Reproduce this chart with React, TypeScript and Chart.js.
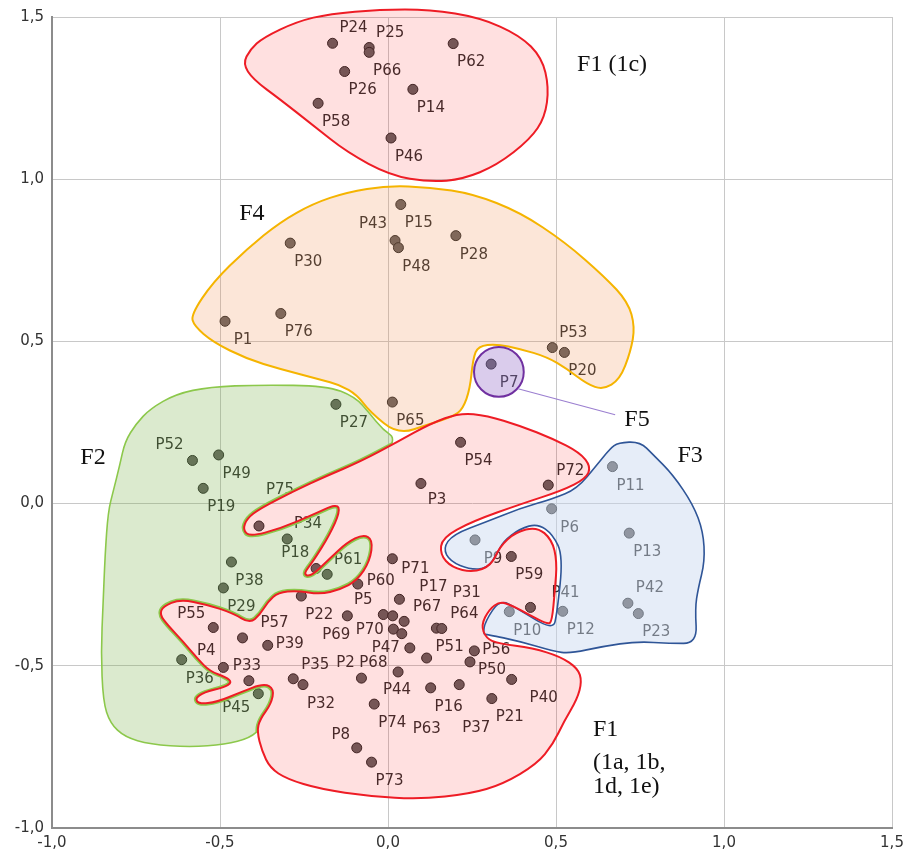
import React, { useEffect, useRef } from "react";
import { Chart, registerables } from "chart.js";
Chart.register(...registerables);

// ---------- data ----------
const pointNames = [
  "P24","P25","P66","P62","P26","P14","P58","P46",
  "P15","P30","P43","P48","P28","P76","P1","P65","P53","P20","P7",
  "P27","P52","P49","P19","P75","P18","P38","P29","P34","P61","P55","P36","P45",
  "P11","P6","P13","P9","P10","P12","P42","P23",
  "P54","P3","P72","P59","P41",
  "P71","P60","P17","P69","P5","P70","P67","P68","P63","P64","P31","P47","P51","P44","P2","P56","P50",
  "P22","P57","P39","P4","P33","P35","P32",
  "P16","P37","P40","P21","P74","P8","P73"
];
const pointX = [
  -0.165,-0.056,-0.056,0.194,-0.129,0.074,-0.208,0.009,
  0.038,-0.291,0.021,0.031,0.202,-0.319,-0.485,0.013,0.489,0.525,0.307,
  -0.155,-0.582,-0.504,-0.550,-0.384,-0.300,-0.466,-0.490,-0.214,-0.181,-0.520,-0.614,-0.386,
  0.668,0.487,0.718,0.259,0.361,0.520,0.714,0.745,
  0.216,0.098,0.477,0.367,0.424,
  0.013,-0.090,0.034,-0.121,-0.014,0.014,0.048,0.016,0.041,0.144,0.160,0.065,0.115,0.030,-0.079,0.257,0.244,
  -0.258,-0.433,-0.358,-0.490,-0.414,-0.282,-0.253,
  0.127,0.212,0.368,0.309,-0.041,-0.093,-0.049
];
const pointY = [
  1.419,1.406,1.391,1.418,1.332,1.277,1.234,1.127,
  0.922,0.803,0.811,0.789,0.826,0.586,0.562,0.313,0.481,0.466,0.430,
  0.306,0.133,0.150,0.047,-0.069,-0.109,-0.180,-0.260,-0.200,-0.218,-0.382,-0.481,-0.586,
  0.114,-0.016,-0.091,-0.112,-0.333,-0.332,-0.307,-0.339,
  0.189,0.062,0.057,-0.163,-0.320,
  -0.170,-0.248,-0.295,-0.346,-0.342,-0.346,-0.363,-0.387,-0.401,-0.384,-0.385,-0.445,-0.476,-0.519,-0.538,-0.454,-0.488,
  -0.285,-0.414,-0.437,-0.505,-0.546,-0.540,-0.558,
  -0.568,-0.558,-0.542,-0.601,-0.618,-0.753,-0.797
];
const axisMin = -1;
const axisMax = 1.5;
const axisStep = 0.5;

// region outlines (data units)
const regionF1c: [number, number][] = [
  [-0.432,1.356],[-0.410,1.400],[-0.372,1.436],[-0.271,1.486],[-0.173,1.510],[-0.024,1.523],[0.125,1.523],
  [0.274,1.498],[0.393,1.443],[0.458,1.375],[0.479,1.283],[0.467,1.191],[0.423,1.123],
  [0.324,1.043],[0.223,1.0],[0.125,0.991],[0.006,1.012],[-0.122,1.083],[-0.223,1.166],
  [-0.321,1.246],[-0.402,1.308]
];
const regionF4: [number, number][] = [
  [-0.586,0.582],[-0.521,0.683],[-0.420,0.785],[-0.321,0.868],[-0.223,0.925],[-0.122,0.960],
  [-0.003,0.980],[0.125,0.975],[0.253,0.955],[0.393,0.898],[0.527,0.806],[0.646,0.698],
  [0.714,0.622],[0.735,0.545],[0.722,0.468],[0.690,0.382],[0.640,0.351],[0.592,0.369],
  [0.533,0.415],[0.473,0.452],[0.393,0.477],[0.324,0.492],[0.268,0.486],[0.253,0.446],
  [0.244,0.354],[0.223,0.292],[0.193,0.268],[0.125,0.246],[0.030,0.212],[-0.054,0.283],
  [-0.092,0.335],[-0.143,0.366],[-0.202,0.382],[-0.321,0.415],[-0.420,0.446],[-0.521,0.498],
  [-0.577,0.548]
];
const regionF2: [number, number][] = [
  [-0.708,0.292],[-0.631,0.338],[-0.530,0.360],[-0.381,0.366],[-0.182,0.363],[-0.098,0.329],
  [-0.054,0.277],[-0.015,0.228],[0.027,0.197],[-0.048,0.098],[-0.009,-0.055],[-0.024,-0.209],
  [-0.113,-0.332],[-0.262,-0.455],[-0.307,-0.609],[-0.372,-0.686],[-0.411,-0.723],[-0.485,-0.742],
  [-0.589,-0.751],[-0.708,-0.742],[-0.783,-0.720],[-0.827,-0.677],[-0.848,-0.609],[-0.854,-0.455],
  [-0.848,-0.311],[-0.842,-0.157],[-0.833,-0.025],[-0.818,0.037],[-0.798,0.120],[-0.783,0.191],
  [-0.750,0.246]
];
const regionF1: [number, number][] = [
  [0.125,0.246],[0.214,0.280],[0.295,0.271],[0.393,0.240],[0.491,0.200],[0.571,0.157],
  [0.604,0.114],[0.589,0.077],[0.518,0.040],[0.399,0.000],[0.250,-0.055],[0.161,-0.105],
  [0.155,-0.157],[0.190,-0.197],[0.253,-0.212],[0.307,-0.191],[0.333,-0.132],[0.378,-0.089],
  [0.443,-0.071],[0.488,-0.111],[0.503,-0.178],[0.497,-0.265],[0.488,-0.363],[0.476,-0.372],
  [0.423,-0.345],[0.369,-0.314],[0.333,-0.302],[0.301,-0.326],[0.277,-0.375],[0.292,-0.415],
  [0.327,-0.431],[0.432,-0.446],[0.512,-0.471],[0.565,-0.508],[0.577,-0.548],[0.563,-0.603],
  [0.524,-0.671],[0.491,-0.742],[0.443,-0.803],[0.342,-0.865],[0.244,-0.895],[0.095,-0.911],
  [-0.054,-0.902],[-0.202,-0.880],[-0.301,-0.849],[-0.351,-0.815],[-0.375,-0.763],[-0.390,-0.702],
  [-0.381,-0.665],[-0.348,-0.618],[-0.339,-0.572],[-0.369,-0.554],[-0.440,-0.582],[-0.509,-0.612],
  [-0.563,-0.618],[-0.574,-0.600],[-0.548,-0.582],[-0.488,-0.566],[-0.464,-0.551],[-0.482,-0.535],
  [-0.530,-0.517],[-0.568,-0.477],[-0.610,-0.425],[-0.658,-0.372],[-0.679,-0.342],[-0.670,-0.317],
  [-0.619,-0.295],[-0.539,-0.311],[-0.461,-0.338],[-0.411,-0.369],[-0.381,-0.342],[-0.357,-0.302],
  [-0.327,-0.274],[-0.271,-0.268],[-0.202,-0.280],[-0.143,-0.265],[-0.092,-0.237],[-0.054,-0.178],
  [-0.045,-0.111],[-0.074,-0.095],[-0.122,-0.120],[-0.173,-0.169],[-0.229,-0.225],[-0.253,-0.218],
  [-0.223,-0.178],[-0.173,-0.095],[-0.143,-0.025],[-0.152,0.000],[-0.223,-0.034],[-0.321,-0.077],
  [-0.411,-0.102],[-0.432,-0.080],[-0.420,-0.046],[-0.381,-0.015],[-0.283,0.037],[-0.182,0.086],
  [-0.083,0.129],[0.030,0.191]
];
const regionF3: [number, number][] = [
  [0.685,0.188],[0.750,0.191],[0.789,0.151],[0.848,0.089],[0.908,-0.003],[0.938,-0.086],
  [0.943,-0.178],[0.923,-0.262],[0.914,-0.323],[0.920,-0.431],[0.839,-0.431],[0.741,-0.425],
  [0.640,-0.440],[0.542,-0.462],[0.491,-0.455],[0.393,-0.425],[0.295,-0.403],[0.283,-0.403],
  [0.289,-0.363],[0.333,-0.295],[0.384,-0.323],[0.491,-0.391],[0.503,-0.338],[0.521,-0.163],
  [0.491,-0.095],[0.446,-0.062],[0.393,-0.077],[0.342,-0.117],[0.324,-0.157],[0.295,-0.200],
  [0.244,-0.203],[0.185,-0.178],[0.164,-0.138],[0.193,-0.095],[0.295,-0.055],[0.393,-0.015],
  [0.491,0.015],[0.563,0.046],[0.622,0.120],[0.661,0.169]
];
const circleF5 = { cx: 0.330, cy: 0.406, rx: 0.074, ry: 0.077 };
const leaderF5: [number, number][] = [[0.387,0.354],[0.676,0.274]];
const regionTexts = [
  { text: "F1 (1c)", x: 0.667, y: 1.354, align: "center" },
  { text: "F4", x: -0.405, y: 0.895, align: "center" },
  { text: "F5", x: 0.741, y: 0.258, align: "center" },
  { text: "F2", x: -0.878, y: 0.142, align: "center" },
  { text: "F3", x: 0.899, y: 0.148, align: "center" },
  { text: "F1", x: 0.610, y: -0.698, align: "left" },
  { text: "(1a, 1b,", x: 0.610, y: -0.800, align: "left" },
  { text: "1d, 1e)", x: 0.610, y: -0.874, align: "left" },
];

// label placement (pixel offsets from point centre)
const defaultOffset: [number, number] = [18, 19];
const labelOffsets: Record<string, [number, number]> = {
  P24:[21,-15], P25:[21,-14], P43:[-22,-16], P53:[21,-14], P52:[-23,-15], P75:[21,-36],
  P18:[8,14], P34:[-8,-44], P61:[21,-14], P55:[-22,-13], P45:[-22,14], P42:[22,-15],
  P3:[16,17], P72:[22,-14], P41:[35,-14], P71:[23,10], P60:[23,-3], P17:[34,-12],
  P69:[-11,19], P5:[-20,-14], P70:[-23,14], P67:[23,-14], P68:[-20,34], P63:[25,95],
  P64:[28,-14], P31:[25,-35], P47:[-24,0], P51:[23,-11], P44:[-1,18], P2:[-16,-15],
  P56:[22,-1], P50:[22,8], P57:[32,-15], P39:[22,-1], P4:[-17,-16], P33:[-2,-15],
  P35:[22,-14], P37:[17,43], P40:[32,19], P8:[-16,-13]
};

// ---------- drawing helpers ----------
function smoothPath(pts: number[][]): Path2D {
  const p = new Path2D();
  const n = pts.length;
  const mid = (a: number[], b: number[]) => [(a[0] + b[0]) / 2, (a[1] + b[1]) / 2];
  const m0 = mid(pts[n - 1], pts[0]);
  p.moveTo(m0[0], m0[1]);
  for (let i = 0; i < n; i++) {
    const c = pts[i];
    const m = mid(pts[i], pts[(i + 1) % n]);
    p.quadraticCurveTo(c[0], c[1], m[0], m[1]);
  }
  p.closePath();
  return p;
}

const overlayPlugin = {
  id: "overlay",
  afterDatasetsDraw(chart: any) {
    const ctx: CanvasRenderingContext2D = chart.ctx;
    const xs = chart.scales.x;
    const ys = chart.scales.y;
    const px = (v: number) => xs.getPixelForValue(v);
    const py = (v: number) => ys.getPixelForValue(v);
    const toPix = (r: [number, number][]) => r.map(([a, b]) => [px(a), py(b)]);
    const W = chart.width, H = chart.height;

    // point labels (under the region tints)
    ctx.save();
    ctx.font = "15px 'DejaVu Sans'";
    ctx.fillStyle = "#303030";
    ctx.textAlign = "center";
    ctx.textBaseline = "middle";
    pointNames.forEach((n, i) => {
      const o = labelOffsets[n] || defaultOffset;
      ctx.fillText(n, px(pointX[i]) + o[0], py(pointY[i]) + o[1]);
    });
    ctx.restore();

    const pF1c = smoothPath(toPix(regionF1c));
    const pF4 = smoothPath(toPix(regionF4));
    const pF2 = smoothPath(toPix(regionF2));
    const pF1 = smoothPath(toPix(regionF1));
    const pF3 = smoothPath(toPix(regionF3));
    const outside = (p: Path2D) => {
      const q = new Path2D();
      q.rect(-10, -10, W + 20, H + 20);
      q.addPath(p);
      return q;
    };

    // F4 orange
    ctx.save();
    ctx.clip(outside(pF1), "evenodd");
    ctx.fillStyle = "rgba(240,130,60,0.2)";
    ctx.fill(pF4);
    ctx.restore();

    // F2 green (outside red and orange)
    ctx.save();
    ctx.clip(outside(pF1), "evenodd");
    ctx.clip(outside(pF4), "evenodd");
    ctx.fillStyle = "rgba(110,170,60,0.25)";
    ctx.fill(pF2);
    ctx.strokeStyle = "#8cc84b";
    ctx.lineWidth = 1.6;
    ctx.stroke(pF2);
    ctx.clip(pF2);
    ctx.lineWidth = 5;
    ctx.stroke(pF1);
    ctx.restore();

    // F1 red
    ctx.save();
    ctx.fillStyle = "rgba(255,0,0,0.12)";
    ctx.fill(pF1);
    ctx.fill(pF1c);
    ctx.restore();

    // F3 blue
    ctx.save();
    ctx.clip(outside(pF1), "evenodd");
    ctx.fillStyle = "rgba(200,215,240,0.45)";
    ctx.fill(pF3);
    ctx.restore();
    ctx.save();
    ctx.strokeStyle = "#2f5597";
    ctx.lineWidth = 1.6;
    ctx.stroke(pF3);
    ctx.restore();

    // strokes
    ctx.save();
    ctx.lineJoin = "round";
    ctx.strokeStyle = "#f5b400";
    ctx.lineWidth = 2;
    ctx.stroke(pF4);
    ctx.strokeStyle = "#ee1c25";
    ctx.lineWidth = 2;
    ctx.stroke(pF1);
    ctx.stroke(pF1c);
    ctx.restore();

    // F5 circle
    ctx.save();
    const cx = px(circleF5.cx), cy = py(circleF5.cy);
    const rx = Math.abs(px(circleF5.cx + circleF5.rx) - cx);
    const ry = Math.abs(py(circleF5.cy + circleF5.ry) - cy);
    ctx.beginPath();
    ctx.ellipse(cx, cy, rx, ry, 0, 0, Math.PI * 2);
    ctx.fillStyle = "rgba(150,110,200,0.35)";
    ctx.fill();
    ctx.strokeStyle = "#7030a0";
    ctx.lineWidth = 2;
    ctx.stroke();
    ctx.beginPath();
    ctx.moveTo(px(leaderF5[0][0]), py(leaderF5[0][1]));
    ctx.lineTo(px(leaderF5[1][0]), py(leaderF5[1][1]));
    ctx.strokeStyle = "#9b7fd0";
    ctx.lineWidth = 1.2;
    ctx.stroke();
    ctx.restore();

    // region names
    ctx.save();
    ctx.font = "24px 'Liberation Serif'";
    ctx.fillStyle = "#111111";
    ctx.textBaseline = "middle";
    regionTexts.forEach((t) => {
      ctx.textAlign = t.align as CanvasTextAlign;
      ctx.fillText(t.text, px(t.x), py(t.y));
    });
    ctx.restore();
  },
};

const fmt = (v: any) => Number(v).toFixed(1).replace(".", ",");

export default function App() {
  const ref = useRef<HTMLCanvasElement | null>(null);
  useEffect(() => {
    if (!ref.current) return;
    const data = pointNames.map((_, i) => ({ x: pointX[i], y: pointY[i] }));
    const axis = (which: string) => ({
      type: "linear" as const,
      min: axisMin,
      max: axisMax,
      ticks: {
        stepSize: axisStep,
        callback: fmt,
        color: "#333333",
        font: { family: "DejaVu Sans", size: 15 },
        padding: which === "x" ? 6 : 8,
      },
      grid: { color: "#c8c8c8", lineWidth: 1, drawTicks: false },
      border: { display: true, color: "#8c8c8c", width: 2 },
      afterFit: (s: any) => {
        if (which === "x") s.height = 28;
        else s.width = 52;
      },
    });
    const chart = new Chart(ref.current, {
      type: "scatter",
      data: {
        datasets: [
          {
            data,
            pointRadius: 5,
            pointHoverRadius: 5,
            backgroundColor: "rgb(100,98,98)",
            borderColor: "rgb(40,40,40)",
            borderWidth: 1,
          },
        ],
      },
      options: {
        animation: false,
        responsive: false,
        devicePixelRatio: 1,
        layout: { padding: { top: 15, right: 18, left: 0, bottom: 0 } },
        plugins: { legend: { display: false }, tooltip: { enabled: false } },
        scales: { x: axis("x"), y: axis("y") } as any,
      },
      plugins: [overlayPlugin],
    });
    return () => chart.destroy();
  }, []);
  return (
    <div style={{ position: "absolute", left: 0, top: 0, width: 910, height: 856, background: "#fff" }}>
      <canvas ref={ref} width={910} height={856} />
    </div>
  );
}
